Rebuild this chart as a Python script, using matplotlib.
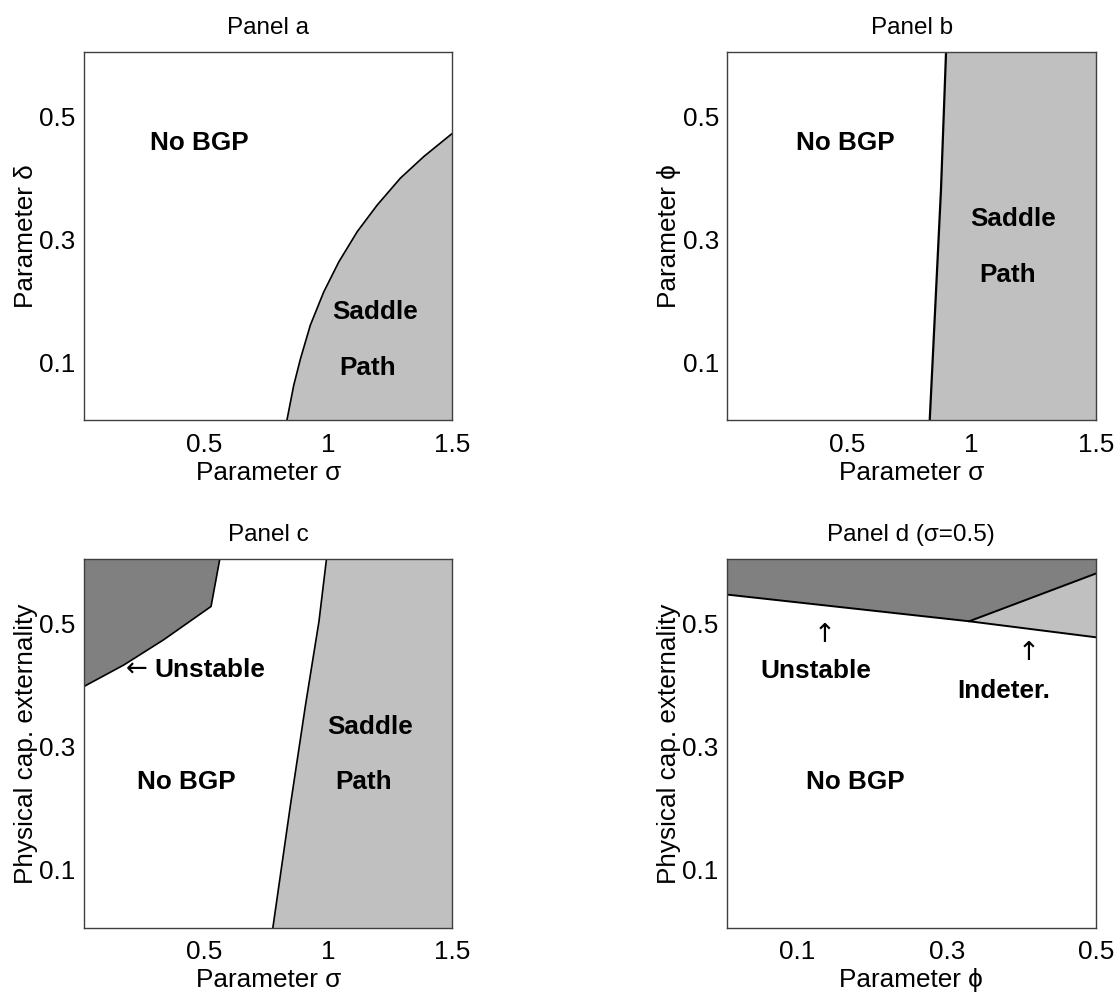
'''Stability regions of the balanced growth path, four panels'''
import matplotlib
matplotlib.use('Agg')
import matplotlib.pyplot as plt

plt.rcParams['font.family'] = ['Liberation Sans', 'DejaVu Sans']
plt.rcParams['font.size'] = 18.8
plt.rcParams['axes.titlesize'] = 17.5

LIGHT = '#c0c0c0'
DARK = '#808080'

# panel a: saddle-path boundary (sigma, delta)
a_sigma = [0.83, 0.860, 0.887, 0.927, 0.981, 1.042, 1.116, 1.196, 1.290, 1.384, 1.5]
a_delta = [0.0, 0.062, 0.105, 0.160, 0.214, 0.263, 0.312, 0.355, 0.399, 0.434, 0.472]

# panel b: saddle-path boundary (sigma, phi)
b_sigma = [0.83, 0.876, 0.897]
b_phi = [0.0, 0.38, 0.61]

# panel c: unstable boundary and saddle-path boundary (sigma, externality)
c_unst_sigma = [0.0, 0.175, 0.336, 0.527, 0.565]
c_unst_ext = [0.394, 0.432, 0.473, 0.527, 0.61]
c_sad_sigma = [0.774, 0.847, 0.908, 0.962, 0.994]
c_sad_ext = [0.0, 0.205, 0.368, 0.503, 0.61]

# panel d (sigma = 0.5): boundaries over phi
d_phi = [0.0, 0.33, 0.5]
d_unst_ext = [0.547, 0.503, 0.5805]   # lower edge of the dark area
d_ind_ext = [0.503, 0.477]            # lower edge of indeterminacy area (phi 0.33 -> 0.5)


def style_axes(ax, title, xlabel, ylabel, xlim, xticks, xticklabels):
    '''Common MATLAB-like look'''
    ax.set_xlim(xlim)
    ax.set_ylim(0.006, 0.604)
    ax.set_xticks(xticks)
    ax.set_xticklabels(xticklabels)
    ax.set_yticks([0.1, 0.3, 0.5])
    ax.set_yticklabels(['0.1', '0.3', '0.5'])
    ax.tick_params(length=0)
    ax.tick_params(axis='x', pad=9)
    ax.tick_params(axis='y', pad=6)
    for sp in ax.spines.values():
        sp.set_color('#404040')
        sp.set_linewidth(1.0)
        sp.set_zorder(5)
    ax.set_title(title, pad=13)
    ax.set_xlabel(xlabel, labelpad=3)
    ax.set_ylabel(ylabel, labelpad=1)


def label(ax, x, y, s):
    ax.text(x, y, s, ha='center', va='center', fontweight='bold')


def arrow(ax, x, y, s):
    ax.text(x, y, s, ha='center', va='center', family='DejaVu Sans')


fig = plt.figure(figsize=(11.2, 10), dpi=100)
ax_a = fig.add_axes([0.075, 0.58, 0.329, 0.368])
ax_b = fig.add_axes([0.6494, 0.58, 0.329, 0.368])
ax_c = fig.add_axes([0.075, 0.0723, 0.329, 0.3687])
ax_d = fig.add_axes([0.6488, 0.0723, 0.3298, 0.3687])

sig_ticks = [0.5, 1, 1.5]
sig_labels = ['0.5', '1', '1.5']

# ---- panel a
ax_a.fill(a_sigma + [1.6, 1.6], a_delta + [0.472, -0.1], color=LIGHT, lw=0)
ax_a.fill([a_sigma[0], a_sigma[0], 1.6], [a_delta[0], -0.1, -0.1], color=LIGHT, lw=0)
ax_a.plot(a_sigma, a_delta, color='black', lw=1.2)
style_axes(ax_a, 'Panel a', 'Parameter σ', 'Parameter δ', (0.015, 1.5), sig_ticks, sig_labels)
label(ax_a, 0.48, 0.456, 'No BGP')
label(ax_a, 1.19, 0.181, 'Saddle')
label(ax_a, 1.156, 0.09, 'Path')

# ---- panel b
ax_b.fill(b_sigma + [1.6, 1.6], b_phi + [0.7, -0.1], color=LIGHT, lw=0)
ax_b.fill([b_sigma[0], b_sigma[0], 1.6], [b_phi[0], -0.1, -0.1], color=LIGHT, lw=0)
ax_b.plot(b_sigma, b_phi, color='black', lw=1.6)
style_axes(ax_b, 'Panel b', 'Parameter σ', 'Parameter ϕ', (0.015, 1.5), sig_ticks, sig_labels)
label(ax_b, 0.49, 0.456, 'No BGP')
label(ax_b, 1.167, 0.333, 'Saddle')
label(ax_b, 1.143, 0.241, 'Path')

# ---- panel c
ax_c.fill(c_unst_sigma + [0.0], c_unst_ext + [0.7], color=DARK, lw=0)
ax_c.fill([-0.1, -0.1, 0.0, 0.565, 0.565], [0.394, 0.7, 0.7, 0.7, 0.61], color=DARK, lw=0)
ax_c.plot(c_unst_sigma, c_unst_ext, color='black', lw=1.2)
ax_c.fill(c_sad_sigma + [1.6, 1.6], c_sad_ext + [0.7, -0.1], color=LIGHT, lw=0)
ax_c.fill([c_sad_sigma[0], c_sad_sigma[0], 1.6], [c_sad_ext[0], -0.1, -0.1], color=LIGHT, lw=0)
ax_c.plot(c_sad_sigma, c_sad_ext, color='black', lw=1.2)
style_axes(ax_c, 'Panel c', 'Parameter σ', 'Physical cap. externality',
           (0.015, 1.5), sig_ticks, sig_labels)
arrow(ax_c, 0.226, 0.424, '←')
label(ax_c, 0.521, 0.424, 'Unstable')
label(ax_c, 0.427, 0.243, 'No BGP')
label(ax_c, 1.169, 0.332, 'Saddle')
label(ax_c, 1.143, 0.243, 'Path')

# ---- panel d
ax_d.fill([d_phi[0], d_phi[1], d_phi[2], d_phi[2], d_phi[0]],
          [d_unst_ext[0], d_unst_ext[1], d_unst_ext[2], 0.7, 0.7], color=DARK, lw=0)
ax_d.fill([d_phi[1], d_phi[2], d_phi[2]],
          [d_unst_ext[1], d_unst_ext[2], d_ind_ext[1]], color=LIGHT, lw=0)
ax_d.plot(d_phi, d_unst_ext, color='black', lw=1.4)
ax_d.plot(d_phi[1:], d_ind_ext, color='black', lw=1.4)
style_axes(ax_d, 'Panel d (σ=0.5)', 'Parameter ϕ', 'Physical cap. externality',
           (0.005, 0.5), [0.1, 0.3, 0.5], ['0.1', '0.3', '0.5'])
arrow(ax_d, 0.136, 0.481, '↑')
label(ax_d, 0.125, 0.422, 'Unstable')
arrow(ax_d, 0.41, 0.452, '↑')
label(ax_d, 0.376, 0.39, 'Indeter.')
label(ax_d, 0.177, 0.242, 'No BGP')

plt.savefig('out.png', dpi=100)
